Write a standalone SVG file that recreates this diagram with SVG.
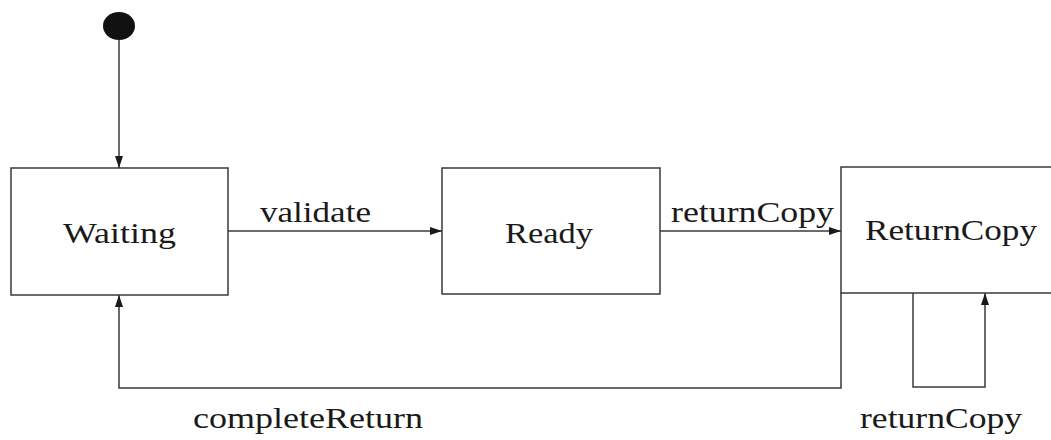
<svg xmlns="http://www.w3.org/2000/svg" width="1051" height="440" viewBox="0 0 1051 440">
  <style>
    .state { fill: #ffffff; stroke: #3a3a3a; stroke-width: 1.5; }
    .label { font-family: "Liberation Serif", "Times New Roman", serif; font-size: 29px; fill: #1a1a1a; }
    .edge { fill: none; stroke: #3a3a3a; stroke-width: 1.5; }
  </style>
  <defs>
    <marker id="arrow" viewBox="0 0 12 8" refX="12" refY="4" markerWidth="12" markerHeight="8" markerUnits="userSpaceOnUse" orient="auto">
      <path d="M0,0 L12,4 L0,8 Z" fill="#1a1a1a"/>
    </marker>
  </defs>
  <rect width="1051" height="440" fill="#ffffff"/>

  <!-- initial pseudo-state -->
  <g id="initial">
    <ellipse cx="119" cy="26" rx="16" ry="14" fill="#111111"/>
  </g>

  <g id="waiting">
    <rect class="state" x="11" y="168" width="217" height="127"/>
    <text class="label" x="63" y="243" textLength="113" lengthAdjust="spacingAndGlyphs">Waiting</text>
  </g>

  <g id="ready">
    <rect class="state" x="442" y="168" width="218" height="126"/>
    <text class="label" x="505" y="243" textLength="88" lengthAdjust="spacingAndGlyphs">Ready</text>
  </g>

  <g id="returnCopy">
    <rect class="state" x="841" y="167" width="230" height="126"/>
    <text class="label" x="865" y="240" textLength="172" lengthAdjust="spacingAndGlyphs">ReturnCopy</text>
  </g>

  <g id="connectors">
    <line class="edge" x1="119" y1="40" x2="119" y2="168" marker-end="url(#arrow)"/>
    <line class="edge" x1="228" y1="231" x2="442" y2="231" marker-end="url(#arrow)"/>
    <text class="label" x="260" y="222" textLength="111" lengthAdjust="spacingAndGlyphs">validate</text>
    <line class="edge" x1="660" y1="231" x2="841" y2="231" marker-end="url(#arrow)"/>
    <text class="label" x="671" y="222" textLength="163" lengthAdjust="spacingAndGlyphs">returnCopy</text>
    <polyline class="edge" points="841,293 841,388 119,388 119,295" marker-end="url(#arrow)"/>
    <text class="label" x="193" y="428" textLength="230" lengthAdjust="spacingAndGlyphs">completeReturn</text>
    <polyline class="edge" points="913,293 913,387 985,387 985,293" marker-end="url(#arrow)"/>
    <text class="label" x="860" y="428" textLength="162" lengthAdjust="spacingAndGlyphs">returnCopy</text>
  </g>
</svg>
